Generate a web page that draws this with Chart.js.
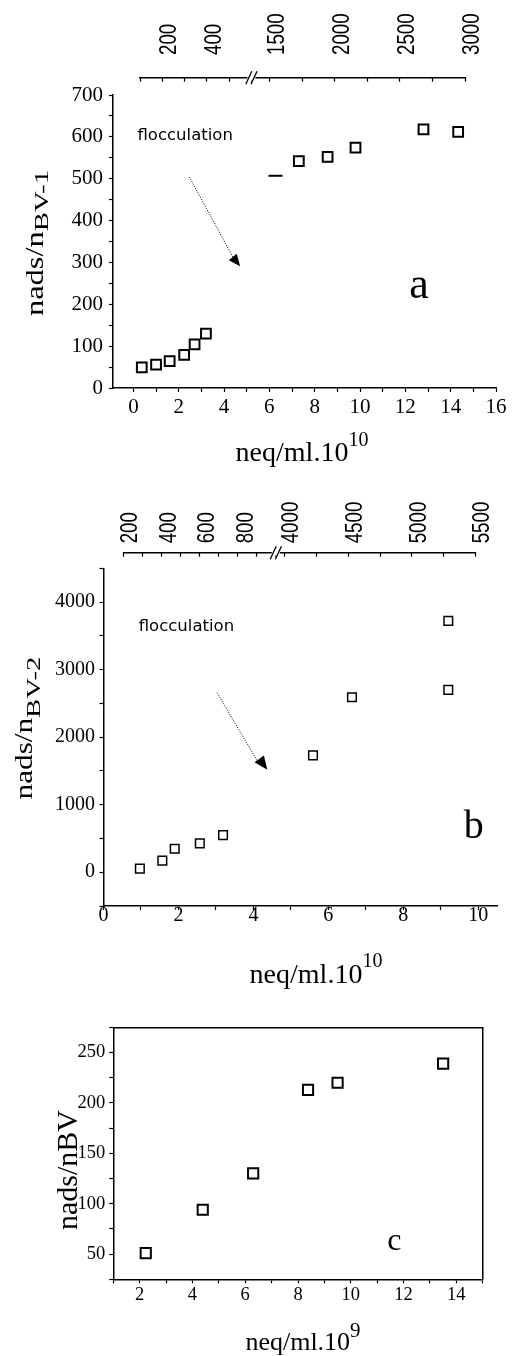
<!DOCTYPE html>
<html>
<head>
<meta charset="utf-8">
<script src="https://cdn.jsdelivr.net/npm/chart.js@4.4.0/dist/chart.umd.min.js"></script>
<style>
  html, body { margin: 0; padding: 0; background: #fff; }
  body { width: 512px; height: 1356px; position: relative; overflow: hidden; }
  canvas { position: absolute; left: 0; }
</style>
</head>
<body>
<canvas id="panelA" width="512" height="480" style="top:0px"></canvas>
<canvas id="panelATop" width="512" height="90" style="top:0px"></canvas>
<canvas id="panelB" width="512" height="530" style="top:470px"></canvas>
<canvas id="panelBTop" width="512" height="95" style="top:470px"></canvas>
<canvas id="panelC" width="512" height="366" style="top:990px"></canvas>
<script>
// panel a: nads/nBV-1 vs neq/ml.10^10
const aX = [0.37, 1.0, 1.6, 2.24, 2.7, 3.2, 7.3, 8.57, 9.8, 12.8, 14.33];
const aY = [49, 56, 64, 79, 104, 130, 542, 552, 574, 618, 612];
const aDashX = [6.27];
const aDashY = [507];
const aXTicks = [0, 2, 4, 6, 8, 10, 12, 14, 16];
const aYTicks = [0, 100, 200, 300, 400, 500, 600, 700];
const aTopLeftTicks = [200, 400];
const aTopRightTicks = [1500, 2000, 2500, 3000];

// panel b: nads/nBV-2 vs neq/ml.10^10
const bX = [0.97, 1.57, 1.9, 2.57, 3.19, 5.59, 6.63, 9.2, 9.2];
const bY = [53, 171, 348, 428, 550, 1730, 2590, 2700, 3721];
const bXTicks = [0, 2, 4, 6, 8, 10];
const bYTicks = [0, 1000, 2000, 3000, 4000];
const bTopLeftTicks = [200, 400, 600, 800];
const bTopRightTicks = [4000, 4500, 5000, 5500];

// panel c: nads/nBV vs neq/ml.10^9
const cX = [2.23, 4.39, 6.3, 8.38, 9.5, 13.5];
const cY = [51, 94, 130, 213, 220, 239];
const cXTicks = [2, 4, 6, 8, 10, 12, 14];
const cYTicks = [50, 100, 150, 200, 250];

const SERIF = "'Liberation Serif', 'Times New Roman', serif";
const NARROW = "'Liberation Sans Narrow', 'Arial Narrow', 'Liberation Sans', sans-serif";
const HAND = "'DejaVu Sans', sans-serif";

function fixSize(size) {
  return (s) => {
    if (s.isHorizontal()) s.height = size; else s.width = size;
    s.paddingLeft = s.paddingRight = s.paddingTop = s.paddingBottom = 0;
  };
}

function pts(xs, ys) {
  return xs.map((x, i) => ({ x, y: ys[i] }));
}

function mainAxis(pos, min, max, step, labels, fontSize, size, pad) {
  return {
    type: 'linear', position: pos, min, max,
    border: { display: true, color: '#000', width: 1.5 },
    grid: { drawOnChartArea: false, drawTicks: true, tickLength: 4, tickColor: '#000', tickWidth: 1.2 },
    ticks: {
      stepSize: step, includeBounds: false, autoSkip: false, maxRotation: 0, minRotation: 0,
      color: '#000', padding: pad, font: { family: SERIF, size: fontSize },
      callback: (v) => labels.includes(v) ? String(v) : ''
    },
    afterFit: fixSize(size)
  };
}

// one piece of the broken secondary axis; pieces sit side by side in one stack
function topAxis(min, max, step, size, weight) {
  return {
    type: 'linear', position: 'top', min, max, stack: 'broken', stackWeight: weight,
    border: { display: true, color: '#000', width: 1.5 },
    grid: { drawOnChartArea: false, drawTicks: true, tickLength: -4, tickColor: '#000', tickWidth: 1.2 },
    ticks: { display: false, stepSize: step, includeBounds: false, autoSkip: false },
    afterFit: fixSize(size)
  };
}

function edgeAxis(pos) {
  return {
    type: 'linear', position: pos,
    border: { display: true, color: '#000', width: 1.5 },
    grid: { display: false, drawTicks: false },
    ticks: { display: false },
    afterFit: fixSize(0)
  };
}

function drawRich(ctx, t) {
  ctx.save();
  ctx.translate(t.x, t.y);
  if (t.rotate) ctx.rotate(-Math.PI / 2);
  ctx.textBaseline = 'alphabetic';
  ctx.textAlign = 'left';
  ctx.fillStyle = '#000';
  const items = t.parts.map((p) => {
    ctx.font = `${p.size}px ${SERIF}`;
    return { ...p, w: ctx.measureText(p.text).width * (p.sx || 1) };
  });
  let cx = -items.reduce((a, b) => a + b.w, 0) / 2;
  items.forEach((it) => {
    ctx.save();
    ctx.font = `${it.size}px ${SERIF}`;
    ctx.translate(cx, it.dy || 0);
    ctx.scale(it.sx || 1, 1);
    ctx.fillText(it.text, 0, 0);
    ctx.restore();
    cx += it.w;
  });
  ctx.restore();
}

// the // mark where the two pieces of the top axis meet, and the upright tick labels
const brokenAxis = {
  id: 'brokenAxis',
  afterDraw(chart, args, opts) {
    if (!opts.left) return;
    const ctx = chart.ctx;
    const l = chart.scales[opts.left];
    const y = l.bottom;
    const mid = l.right;
    ctx.save();
    ctx.fillStyle = '#fff';
    ctx.fillRect(mid - 4, y - 3, 8, 6);
    ctx.strokeStyle = '#000';
    ctx.lineWidth = 1.3;
    [-2.6, 2.6].forEach((d) => {
      ctx.beginPath();
      ctx.moveTo(mid + d - 3, y + 6.5);
      ctx.lineTo(mid + d + 3, y - 6.5);
      ctx.stroke();
    });
    ctx.fillStyle = '#000';
    ctx.font = `24px ${NARROW}`;
    ctx.textBaseline = 'alphabetic';
    ctx.textAlign = 'left';
    opts.labels.forEach(([id, values]) => {
      const s = chart.scales[id];
      values.forEach((v) => {
        ctx.save();
        ctx.translate(s.getPixelForValue(v) + 13.6, s.bottom - opts.gap);
        ctx.rotate(-Math.PI / 2);
        ctx.scale(0.78, 1);
        ctx.fillText(String(v), 0, 0);
        ctx.restore();
      });
    });
    ctx.restore();
  }
};

// texts, arrow and axis titles
const notes = {
  id: 'notes',
  afterDraw(chart, args, opts) {
    const { ctx } = chart;
    const xs = chart.scales.x, ys = chart.scales.y;
    ctx.save();
    ctx.fillStyle = '#000';
    ctx.strokeStyle = '#000';
    (opts.texts || []).forEach((t) => {
      ctx.font = `${t.size}px ${t.family}`;
      ctx.textAlign = t.align;
      ctx.textBaseline = 'alphabetic';
      ctx.fillText(t.text, xs.getPixelForValue(t.x), ys.getPixelForValue(t.y));
    });
    if (opts.arrow) {
      const a = opts.arrow;
      ctx.lineWidth = 1;
      ctx.setLineDash([1, 1.5]);
      ctx.beginPath();
      ctx.moveTo(xs.getPixelForValue(a.from[0]), ys.getPixelForValue(a.from[1]));
      ctx.lineTo(xs.getPixelForValue(a.to[0]), ys.getPixelForValue(a.to[1]));
      ctx.stroke();
      ctx.setLineDash([]);
      ctx.beginPath();
      a.head.forEach(([hx, hy], i) => {
        const px = xs.getPixelForValue(hx), py = ys.getPixelForValue(hy);
        if (i === 0) ctx.moveTo(px, py); else ctx.lineTo(px, py);
      });
      ctx.closePath();
      ctx.fill();
    }
    ctx.restore();
    (opts.titles || []).forEach((t) => drawRich(ctx, t));
  }
};

Chart.register(brokenAxis, notes);

function squares(data, radius, width) {
  return {
    data, showLine: false, pointStyle: 'rect', pointRadius: radius, pointHoverRadius: radius,
    pointBorderColor: '#000', pointBackgroundColor: 'rgba(0,0,0,0)', pointBorderWidth: width
  };
}

const base = {
  responsive: false, animation: false, events: [],
  plugins: { legend: { display: false }, tooltip: { enabled: false } }
};

function topChart(id, padL, padR, left, right, lineY, gap) {
  return new Chart(document.getElementById(id), {
    type: 'scatter',
    data: { datasets: [] },
    options: {
      ...base,
      layout: { padding: { left: padL, right: padR, top: 0, bottom: 0 } },
      scales: {
        x: { display: false },
        y: { display: false },
        // top boxes are laid out in reverse order, so the right piece is listed first
        tR: topAxis(right.min, right.max, right.step, lineY, right.width),
        tL: topAxis(left.min, left.max, left.step, lineY, left.width)
      },
      plugins: {
        ...base.plugins,
        brokenAxis: { left: 'tL', gap, labels: [['tL', left.labels], ['tR', right.labels]] }
      }
    }
  });
}

// ---- panel a ----
new Chart(document.getElementById('panelA'), {
  type: 'scatter',
  data: {
    datasets: [
      squares(pts(aX, aY), 6.9, 2),
      { data: pts(aDashX, aDashY), showLine: false, pointStyle: 'line', pointRadius: 7,
        pointBorderColor: '#000', pointBorderWidth: 2 }
    ]
  },
  options: {
    ...base,
    layout: { padding: { left: 13, right: 16, top: 95, bottom: 0 } },
    scales: {
      x: mainAxis('bottom', -0.9, 16, 1, aXTicks, 21, 92, 3),
      y: mainAxis('left', 0, 700, 50, aYTicks, 21, 100, 6)
    },
    plugins: {
      ...base.plugins,
      notes: {
        texts: [
          { text: 'flocculation', x: 0.18, y: 592, size: 16.5, family: HAND, align: 'left' },
          { text: 'a', x: 12.6, y: 215, size: 44, family: SERIF, align: 'center' }
        ],
        arrow: { from: [2.47, 504], to: [4.4, 312], head: [[4.21, 305], [4.56, 321], [4.71, 291]] },
        titles: [
          { x: 302, y: 461, rotate: false, parts: [
            { text: 'neq/ml.10', size: 28 }, { text: '10', size: 20, dy: -15 }] },
          { x: 43, y: 243, rotate: true, parts: [
            { text: 'nads/n', size: 26, sx: 1.25 }, { text: 'BV-1', size: 18, sx: 1.6, dy: 5 }] }
        ]
      }
    }
  }
});
topChart('panelATop', 140, 47,
  { min: 100, max: 595, step: 100, labels: aTopLeftTicks, width: 111.4 },
  { min: 1357, max: 3000, step: 250, labels: aTopRightTicks, width: 213.6 },
  77.7, 22.7);

// ---- panel b ----
new Chart(document.getElementById('panelB'), {
  type: 'scatter',
  data: { datasets: [squares(pts(bX, bY), 6.1, 1.5)] },
  options: {
    ...base,
    layout: { padding: { left: 3.5, right: 15, top: 98.3, bottom: 0 } },
    scales: {
      x: mainAxis('bottom', 0, 10.5, 1, bXTicks, 20, 94, -6),
      y: mainAxis('left', -500, 4500, 500, bYTicks, 20, 100, 4.5)
    },
    plugins: {
      ...base.plugins,
      notes: {
        texts: [
          { text: 'flocculation', x: 0.94, y: 3574, size: 16.5, family: HAND, align: 'left' },
          { text: 'b', x: 9.88, y: 508, size: 40, family: SERIF, align: 'center' }
        ],
        arrow: { from: [3.03, 2659], to: [4.1, 1650], head: [[4.03, 1627], [4.28, 1730], [4.37, 1519]] },
        titles: [
          { x: 316, y: 513, rotate: false, parts: [
            { text: 'neq/ml.10', size: 28 }, { text: '10', size: 20, dy: -16 }] },
          { x: 32, y: 258, rotate: true, parts: [
            { text: 'nads/n', size: 25, sx: 1.25 }, { text: 'BV-2', size: 18, sx: 1.6, dy: 8 }] }
        ]
      }
    }
  }
});
topChart('panelBTop', 123.3, 36.3,
  { min: 200, max: 990, step: 100, labels: bTopLeftTicks, width: 152.5 },
  { min: 3931, max: 5500, step: 250, labels: bTopRightTicks, width: 199.9 },
  82.7, 9.4);

// ---- panel c ----
new Chart(document.getElementById('panelC'), {
  type: 'scatter',
  data: { datasets: [squares(pts(cX, cY), 7.2, 2)] },
  options: {
    ...base,
    layout: { padding: { left: 13, right: 29.3, top: 37.3, bottom: 0 } },
    scales: {
      x: mainAxis('bottom', 1, 15, 1, cXTicks, 18.5, 76.7, 1),
      y: mainAxis('left', 25, 275, 25, cYTicks, 18.5, 100.3, 4),
      xT: edgeAxis('top'),
      yR: edgeAxis('right')
    },
    plugins: {
      ...base.plugins,
      notes: {
        texts: [
          { text: 'c', x: 11.65, y: 54, size: 32, family: SERIF, align: 'center' }
        ],
        titles: [
          { x: 303, y: 360, rotate: false, parts: [
            { text: 'neq/ml.10', size: 26 }, { text: '9', size: 21, dy: -13 }] },
          { x: 77, y: 180, rotate: true, parts: [{ text: 'nads/nBV', size: 30 }] }
        ]
      }
    }
  }
});
</script>
</body>
</html>
